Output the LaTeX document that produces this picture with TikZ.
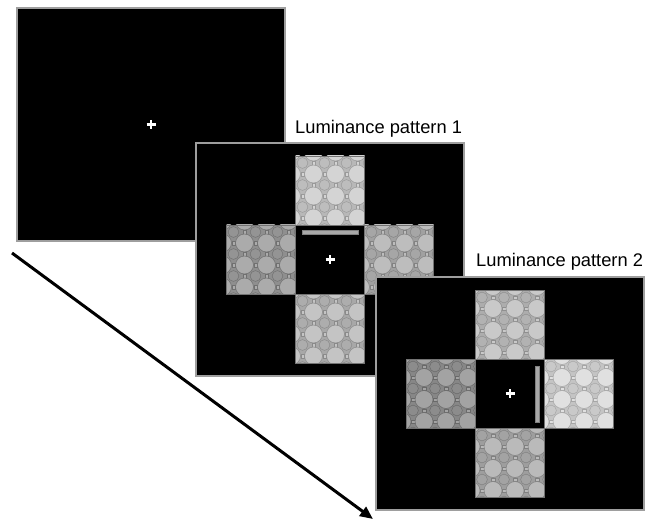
\documentclass[tikz,border=0pt]{standalone}
\usepackage{fontspec}
\setmainfont{Liberation Sans}
\usetikzlibrary{arrows.meta,calc}
\newcommand\texsq[3]{%
  \pgfmathtruncatemacro\tqBase{#3-8}%
  \pgfmathtruncatemacro\tqBig{#3+3}%
  \pgfmathtruncatemacro\tqMed{#3-6}%
  \pgfmathtruncatemacro\tqLine{#3-20}%
  \begin{scope}[shift={(#1,#2)}]
    \clip (0,0) rectangle (69,69);
    \fill[white!\tqBase!black] (0,0) rectangle (69,69);
    \foreach \i in {-1,...,3}{\foreach \j in {-1,...,3}{
      \filldraw[fill=white!\tqBig!black, draw=white!\tqLine!black, line width=0.5pt] (18+22*\i,18+22*\j) circle[radius=9pt];
      \filldraw[fill=white!\tqMed!black, draw=white!\tqLine!black, line width=0.5pt] (29+22*\i,29+22*\j) circle[radius=5.4pt];
      \filldraw[fill=white!\tqBig!black, draw=white!\tqLine!black, line width=0.4pt] (27.2+22*\i,16.2+22*\j) rectangle +(3.6,3.6);
      \filldraw[fill=white!\tqBig!black, draw=white!\tqLine!black, line width=0.4pt] (16.2+22*\i,27.2+22*\j) rectangle +(3.6,3.6);
    }}
  \end{scope}
  \draw[white!45!black, line width=0.6pt] (#1,#2) rectangle ++(69,69);
}
\tikzset{
  panel/.style={draw=white!62!black, line width=2pt, fill=black, minimum width=268pt, minimum height=233pt, inner sep=0pt},
  fix/.style={white, line width=2.6pt},
  lbl/.style={anchor=base west, inner sep=0pt, font=\fontsize{18.3}{20}\selectfont},
  barst/.style={fill=white!66!black, draw=white!50!black, line width=0.4pt},
}
\begin{document}
\begin{tikzpicture}[x=1pt,y=-1pt]
\useasboundingbox[fill=white] (0,0) rectangle (647,521);
% panel 1
\node[panel] (p1) at (151,124.5) {};
\draw[fix] ($(p1.center)+(-4.5,0)$) -- ++(9,0);
\draw[fix] ($(p1.center)+(0,-4.5)$) -- ++(0,9);
% label 1
\node[lbl] (l1) at (295,134) {Luminance pattern 1};
% panel 2
\node[panel] (p2) at (330,259.5) {};
\texsq{295.5}{156}{80}
\texsq{226.5}{225}{64}
\texsq{364.5}{225}{71}
\texsq{295.5}{294}{74}
\fill[barst] (302,230) rectangle (358,234.5);
\draw[fix] ($(p2.center)+(-4.5,0)$) -- ++(9,0);
\draw[fix] ($(p2.center)+(0,-4.5)$) -- ++(0,9);
% label 2
\node[lbl] (l2) at (476,266) {Luminance pattern 2};
% panel 3
\node[panel] (p3) at (510,393.5) {};
\texsq{475}{290.5}{76}
\texsq{406}{359.5}{61}
\texsq{544}{359.5}{85}
\texsq{475}{428.5}{70}
\fill[barst] (535,366) rectangle (539.5,422);
\draw[fix] ($(p3.center)+(-4.5,0)$) -- ++(9,0);
\draw[fix] ($(p3.center)+(0,-4.5)$) -- ++(0,9);
% time arrow
\coordinate (a0) at (12,253);
\coordinate (a1) at (373,519);
\draw[line width=3pt, -{Triangle[length=13pt,width=11pt]}] (a0) -- (a1);
\end{tikzpicture}
\end{document}
